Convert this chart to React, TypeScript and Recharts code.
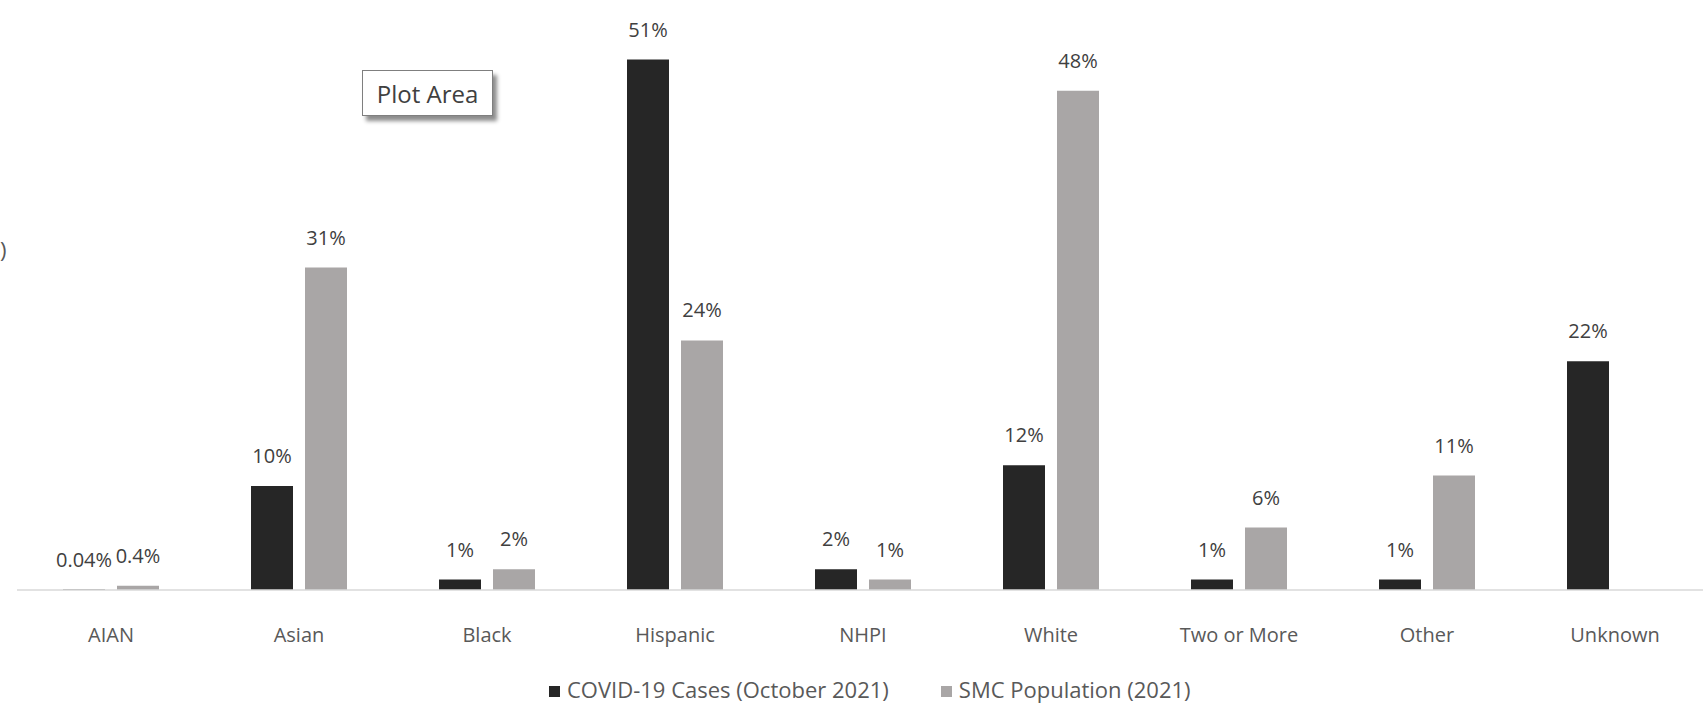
import React from 'react';
import { BarChart, Bar, XAxis, YAxis, Legend, LabelList } from 'recharts';

// Race / ethnicity categories along the x axis
const categories = ['AIAN', 'Asian', 'Black', 'Hispanic', 'NHPI', 'White', 'Two or More', 'Other', 'Unknown'];

// Share of COVID-19 cases (October 2021), percent
const covidCases: (number | null)[] = [0.04, 10, 1, 51, 2, 12, 1, 1, 22];

// Share of San Mateo County population (2021), percent
const smcPopulation: (number | null)[] = [0.4, 31, 2, 24, 1, 48, 6, 11, null];

const seriesNames = ['COVID-19 Cases (October 2021)', 'SMC Population (2021)'];
const seriesColors = ['#262626', '#a9a6a6'];

const data = categories.map((name, i) => ({
  name,
  covid: covidCases[i],
  population: smcPopulation[i],
}));

const FONT = "'Open Sans', 'Noto Sans', sans-serif";
const LEGEND_HEIGHT = 32;

const formatPercent = (v: any) => (v === null || v === undefined ? '' : `${v}%`);

const renderLegend = (props: any) => {
  const payload = props.payload || [];
  return (
    <div
      style={{
        height: LEGEND_HEIGHT,
        display: 'flex',
        alignItems: 'center',
        paddingLeft: 549,
        fontFamily: FONT,
        fontSize: 22,
        lineHeight: '30px',
        color: '#595959',
        whiteSpace: 'nowrap',
      }}
    >
      {payload.map((entry: any) => (
        <span
          key={entry.value}
          style={{ display: 'inline-flex', alignItems: 'center', marginRight: 52, height: 30 }}
        >
          <span
            style={{
              display: 'inline-block',
              width: 11,
              height: 11,
              marginTop: 4,
              background: entry.color,
              marginRight: 7,
            }}
          />
          {entry.value}
        </span>
      ))}
    </div>
  );
};

export default function App() {
  return (
    <div
      style={{
        position: 'absolute',
        left: 0,
        top: 0,
        width: 1703,
        height: 705,
        overflow: 'hidden',
        background: '#ffffff',
      }}
    >
      <BarChart
        width={1712}
        height={705}
        data={data}
        margin={{ top: 18, right: 3, bottom: 0, left: 17 }}
        barSize={42}
        barGap={12}
      >
        <XAxis
          dataKey="name"
          axisLine={{ stroke: '#d9d9d9', strokeWidth: 1.5 }}
          tickLine={false}
          tickSize={0}
          tickMargin={38}
          height={705 - 590 - LEGEND_HEIGHT}
          interval={0}
          tick={{ fill: '#595959', fontSize: 20, fontFamily: FONT }}
        />
        <YAxis hide domain={[0, 55]} />
        <Legend
          verticalAlign="bottom"
          content={renderLegend}
          wrapperStyle={{ left: 0, width: 1712 }}
        />
        <Bar dataKey="covid" name={seriesNames[0]} fill={seriesColors[0]} isAnimationActive={false}>
          <LabelList
            dataKey="covid"
            position="top"
            offset={23}
            formatter={formatPercent}
            style={{ fill: '#404040', fontSize: 20, fontFamily: FONT }}
          />
        </Bar>
        <Bar dataKey="population" name={seriesNames[1]} fill={seriesColors[1]} isAnimationActive={false}>
          <LabelList
            dataKey="population"
            position="top"
            offset={23}
            formatter={formatPercent}
            style={{ fill: '#404040', fontSize: 20, fontFamily: FONT }}
          />
        </Bar>
      </BarChart>

      {/* Selection tag floating over the plot */}
      <div
        style={{
          position: 'absolute',
          left: 362,
          top: 70,
          width: 131,
          height: 46,
          boxSizing: 'border-box',
          border: '1px solid #7f7f7f',
          background: '#ffffff',
          boxShadow: '4px 5px 4px rgba(0,0,0,0.45)',
          display: 'flex',
          alignItems: 'center',
          justifyContent: 'center',
          fontFamily: FONT,
          fontSize: 24,
          color: '#404040',
        }}
      >
        Plot Area
      </div>

      {/* Tail of the axis title at the left edge */}
      <span
        style={{
          position: 'absolute',
          left: 0,
          top: 236,
          fontFamily: FONT,
          fontSize: 22,
          lineHeight: '26px',
          color: '#595959',
        }}
      >
        )
      </span>
    </div>
  );
}
